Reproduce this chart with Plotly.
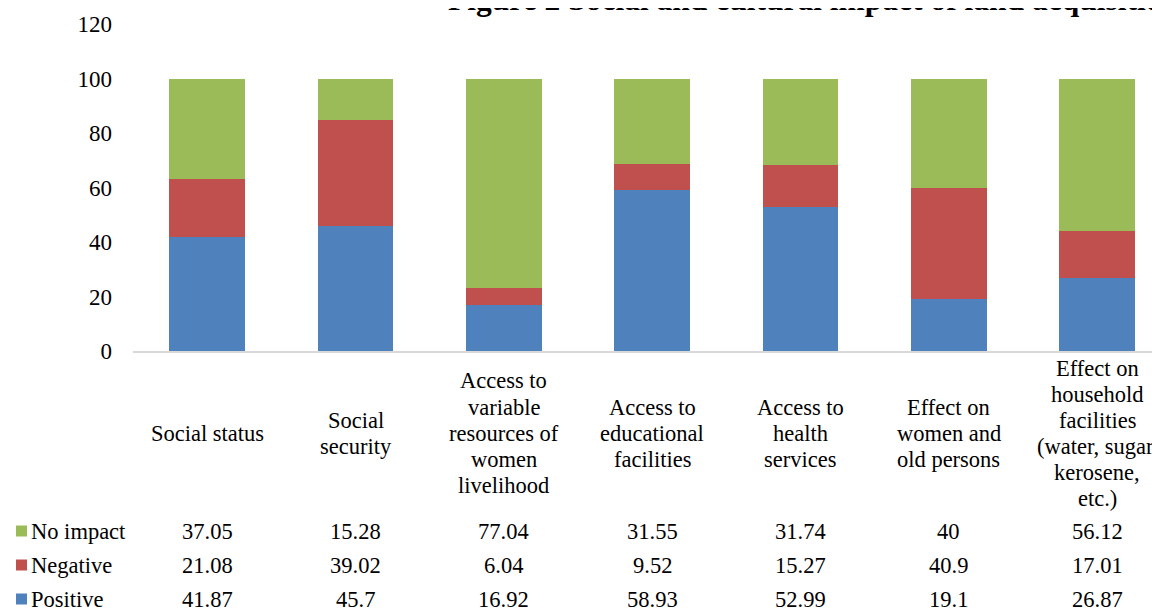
import plotly.graph_objects as go

categories = [
    ["Social status"],
    ["Social", "security"],
    ["Access to", "variable", "resources of", "women", "livelihood"],
    ["Access to", "educational", "facilities"],
    ["Access to", "health", "services"],
    ["Effect on", "women and", "old persons"],
    ["Effect on", "household", "facilities", "(water, sugar,", "kerosene,", "etc.)"],
]
series_names = ["No impact", "Negative", "Positive"]
no_impact = [37.05, 15.28, 77.04, 31.55, 31.74, 40, 56.12]
negative = [21.08, 39.02, 6.04, 9.52, 15.27, 40.9, 17.01]
positive = [41.87, 45.7, 16.92, 58.93, 52.99, 19.1, 26.87]
no_impact_txt = ["37.05", "15.28", "77.04", "31.55", "31.74", "40", "56.12"]
negative_txt = ["21.08", "39.02", "6.04", "9.52", "15.27", "40.9", "17.01"]
positive_txt = ["41.87", "45.7", "16.92", "58.93", "52.99", "19.1", "26.87"]
y_ticks = [0, 20, 40, 60, 80, 100, 120]
title = "Figure 2 Social and cultural impact of land acquisition"

OFF = 8  # page body margin offset
W, H = 1160, 609 - OFF
ML, MR, MT, MB = 133 - OFF, 0, 24 - OFF, 609 - 351
PW = W - ML - MR
PH = H - MT - MB
STEP = 148.33  # px per category

colors = {"Positive": "#4F81BD", "Negative": "#C0504D", "No impact": "#9BBB59"}
FONT = "Liberation Serif, Times New Roman, serif"
FS = 22.5

def py2paper(py):
    return (H - MB - (py - OFF)) / PH

def px2paper(px):
    return ((px - OFF) - ML) / PW

x = list(range(len(categories)))
fig = go.Figure()
for name, vals in [("Positive", positive), ("Negative", negative), ("No impact", no_impact)]:
    fig.add_trace(go.Bar(x=x, y=vals, name=name, marker=dict(color=colors[name], line=dict(width=0)),
                         width=0.512, showlegend=False))

annotations = []
LINE = 26
for i, lines in enumerate(categories):
    n = len(lines)
    for k, t in enumerate(lines):
        py = 433 + (k - (n - 1) / 2) * LINE
        annotations.append(dict(x=i, xref="x", y=py2paper(py), yref="paper", text=t, showarrow=False,
                                xanchor="center", yanchor="middle",
                                font=dict(family=FONT, size=FS, color="#000000")))

rows = [("No impact", no_impact_txt, 531), ("Negative", negative_txt, 565), ("Positive", positive_txt, 599)]
shapes = []
for name, txts, py in rows:
    for i, t in enumerate(txts):
        annotations.append(dict(x=i, xref="x", y=py2paper(py), yref="paper", text=t, showarrow=False,
                                xanchor="center", yanchor="middle",
                                font=dict(family=FONT, size=FS, color="#000000")))
    annotations.append(dict(x=px2paper(29), xref="paper", y=py2paper(py), yref="paper", text=name,
                            showarrow=False, xanchor="left", yanchor="middle",
                            font=dict(family=FONT, size=FS, color="#000000")))
    shapes.append(dict(type="rect", xref="paper", yref="paper",
                       x0=px2paper(16), x1=px2paper(27), y0=py2paper(py + 5.5), y1=py2paper(py - 5.5),
                       fillcolor=colors[name], line=dict(width=0)))

annotations.append(dict(x=px2paper(446), xref="paper", y=py2paper(19), yref="paper", text="<b>" + title + "</b>",
                        showarrow=False, xanchor="left", yanchor="bottom",
                        font=dict(family=FONT, size=31.5, color="#000000")))

fig.update_layout(
    width=W, height=H,
    margin=dict(l=ML, r=MR, t=MT, b=MB, pad=0),
    paper_bgcolor="white", plot_bgcolor="white",
    barmode="stack",
    xaxis=dict(range=[-0.5, -0.5 + PW / STEP], showticklabels=False, showgrid=False, zeroline=False,
               showline=True, linecolor="#D9D9D9", linewidth=1.5, ticks=""),
    yaxis=dict(range=[0, 120], tickvals=y_ticks, showgrid=False, zeroline=False, showline=False,
               ticks="", ticklabelstandoff=20,
               tickfont=dict(family=FONT, size=23, color="#000000")),
    annotations=annotations,
    shapes=shapes,
)
fig.write_html("out.html")
